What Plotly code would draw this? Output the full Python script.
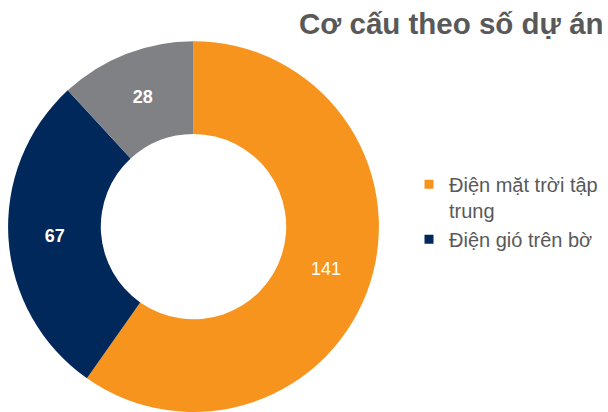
import plotly.graph_objects as go

# Data
categories = ["Điện mặt trời tập trung", "Điện gió trên bờ", "Khác"]
values = [141, 67, 28]
colors = ["#F7941E", "#00285A", "#808184"]
legend_labels = ["Điện mặt trời tập<br>trung", "Điện gió trên bờ"]
label_text = ["141", "<b>67</b>", "<b>28</b>"]

W, H = 608, 412
FONT = "Liberation Sans, Arial, sans-serif"

fig = go.Figure()
fig.add_trace(go.Pie(
    labels=categories,
    values=values,
    text=label_text,
    textinfo="text",
    textposition="inside",
    insidetextorientation="horizontal",
    textfont=dict(color="white", size=18, family=FONT),
    marker=dict(colors=colors, line=dict(width=0)),
    hole=0.5,
    sort=False,
    direction="clockwise",
    rotation=0,
    showlegend=False,
    domain=dict(x=[7 / W, 380 / W], y=[0.0, 0.9]),
    hoverinfo="label+value",
))

for name, col in zip(legend_labels, colors[:2]):
    fig.add_trace(go.Scatter(
        x=[None], y=[None], mode="markers", name=name,
        marker=dict(symbol="square", size=9, color=col),
    ))

fig.update_layout(
    width=W, height=H,
    margin=dict(l=0, r=0, t=0, b=0),
    paper_bgcolor="white",
    plot_bgcolor="white",
    xaxis=dict(visible=False),
    yaxis=dict(visible=False),
    legend=dict(
        x=409 / W, y=0.60, xanchor="left", yanchor="top",
        font=dict(size=20, color="#595959", family=FONT),
        valign="top",
        tracegroupgap=4,
        bgcolor="rgba(0,0,0,0)",
    ),
    annotations=[dict(
        text="<b>Cơ cấu theo số dự án</b>",
        x=297 / W, xref="paper", xanchor="left",
        y=1 - 24 / H, yref="paper", yanchor="middle",
        showarrow=False,
        font=dict(size=29.5, color="#595959", family=FONT),
    )],
)

fig.write_html("out.html", post_script="document.body.style.margin='0';",
               config={"displayModeBar": False})
